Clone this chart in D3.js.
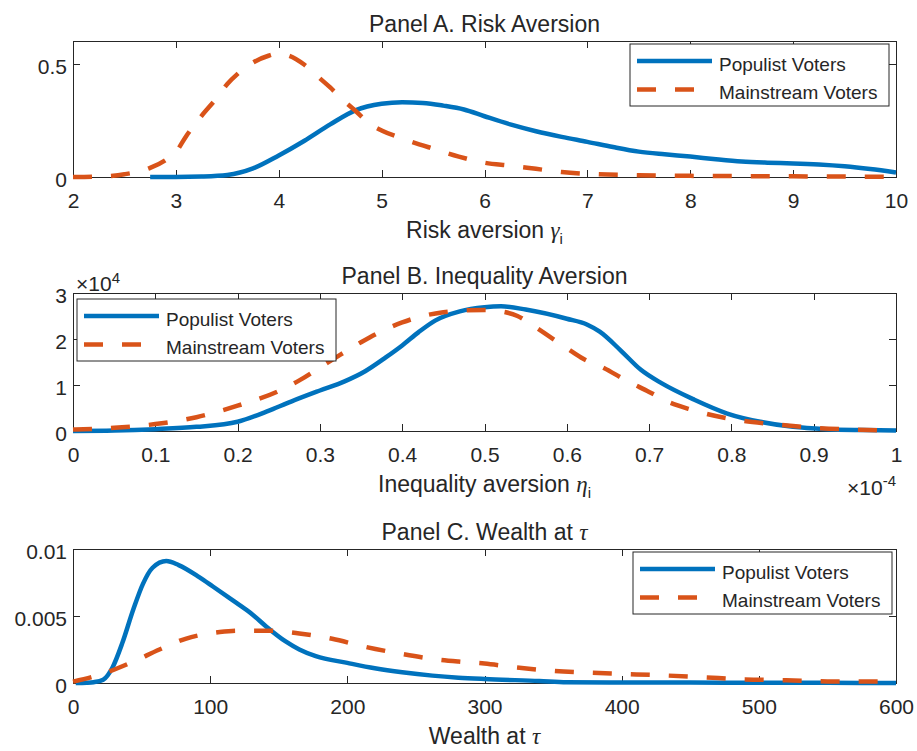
<!DOCTYPE html>
<html>
<head>
<meta charset="utf-8">
<title>Voter distributions</title>
<script src="https://cdn.jsdelivr.net/npm/d3@7"></script>
<style>
  body { margin: 0; background: #fff; }
  text { font-family: "Liberation Sans", Arial, Helvetica, sans-serif; fill: #262626; }
</style>
</head>
<body>
<svg id="chart" width="917" height="751"></svg>
<script>
// ---- data ----
// Panel A: risk aversion gamma_i
var riskPopX = [2.75, 3, 3.25, 3.5, 3.75, 4, 4.25, 4.5, 4.75, 5, 5.2, 5.4, 5.6, 5.8, 6, 6.25, 6.5, 6.75, 7, 7.25, 7.5, 7.75, 8, 8.25, 8.5, 8.75, 9, 9.25, 9.5, 9.75, 10];
var riskPopY = [0, 0, 0.002, 0.009, 0.038, 0.095, 0.16, 0.232, 0.295, 0.323, 0.33, 0.327, 0.315, 0.298, 0.268, 0.232, 0.202, 0.177, 0.155, 0.132, 0.112, 0.1, 0.09, 0.078, 0.068, 0.063, 0.06, 0.055, 0.047, 0.035, 0.02];
var riskMainX = [2, 2.25, 2.5, 2.75, 2.9, 3, 3.1, 3.25, 3.4, 3.5, 3.6, 3.75, 3.9, 4, 4.1, 4.25, 4.4, 4.5, 4.6, 4.75, 4.9, 5, 5.2, 5.5, 5.75, 6, 6.25, 6.5, 6.75, 7, 7.5, 8, 8.5, 9, 9.5, 10];
var riskMainY = [0, 0.002, 0.012, 0.04, 0.075, 0.11, 0.18, 0.27, 0.35, 0.41, 0.455, 0.505, 0.535, 0.545, 0.535, 0.495, 0.435, 0.395, 0.35, 0.29, 0.23, 0.205, 0.17, 0.125, 0.09, 0.063, 0.05, 0.036, 0.022, 0.014, 0.008, 0.005, 0.004, 0.003, 0.002, 0.001];

// Panel B: inequality aversion eta_i (x in units of 1e-4, y in units of 1e4)
var ineqPopX = [0, 0.05, 0.1, 0.15, 0.2, 0.235, 0.265, 0.3, 0.33, 0.355, 0.38, 0.4, 0.42, 0.44, 0.47, 0.5, 0.52, 0.55, 0.6, 0.625, 0.64, 0.665, 0.69, 0.715, 0.755, 0.795, 0.835, 0.875, 0.915, 0.96, 1];
var ineqPopY = [0, 0.01, 0.04, 0.09, 0.2, 0.42, 0.64, 0.88, 1.08, 1.3, 1.6, 1.86, 2.15, 2.4, 2.6, 2.69, 2.71, 2.64, 2.44, 2.31, 2.16, 1.76, 1.33, 1.04, 0.68, 0.38, 0.2, 0.09, 0.04, 0.02, 0.01];
var ineqMainX = [0, 0.05, 0.1, 0.15, 0.2, 0.25, 0.275, 0.3, 0.325, 0.35, 0.375, 0.4, 0.425, 0.45, 0.475, 0.5, 0.52, 0.54, 0.56, 0.58, 0.6, 0.62, 0.645, 0.67, 0.7, 0.725, 0.75, 0.8, 0.85, 0.9, 0.95, 1];
var ineqMainY = [0.03, 0.07, 0.15, 0.3, 0.55, 0.87, 1.1, 1.38, 1.66, 1.93, 2.17, 2.36, 2.5, 2.58, 2.62, 2.63, 2.6, 2.5, 2.28, 2.04, 1.8, 1.57, 1.37, 1.12, 0.85, 0.62, 0.47, 0.26, 0.15, 0.07, 0.03, 0.01];

// Panel C: wealth at tau
var wealthPopX = [2, 10, 15, 22, 29, 36, 44, 51, 58, 68, 77, 92, 102, 116, 131, 141, 155, 165, 177, 200, 220, 240, 262, 281, 300, 340, 360, 400, 450, 500, 550, 600];
var wealthPopY = [0, 0.00002, 0.00006, 0.00025, 0.0012, 0.003, 0.0055, 0.0074, 0.0086, 0.0091, 0.0088, 0.0079, 0.0072, 0.0062, 0.0051, 0.0042, 0.0031, 0.0025, 0.002, 0.0015, 0.0011, 0.0008, 0.00055, 0.0004, 0.0003, 0.00015, 0.00006, 0.00004, 0.00003, 0.00002, 0.00001, 0];
var wealthMainX = [0, 19, 44, 63, 82, 107, 120, 143, 165, 189, 213, 238, 262, 281, 300, 320, 345, 375, 400, 430, 460, 490, 520, 550, 600];
var wealthMainY = [0.0001, 0.0006, 0.0016, 0.0025, 0.0033, 0.0038, 0.0039, 0.0039, 0.0037, 0.0033, 0.0027, 0.0022, 0.0018, 0.0016, 0.00145, 0.0012, 0.00095, 0.00078, 0.00068, 0.00057, 0.00042, 0.00027, 0.0002, 0.00012, 0.00012];

var seriesNames = ["Populist Voters", "Mainstream Voters"];
var riskTicksX = [2, 3, 4, 5, 6, 7, 8, 9, 10];
var riskTicksY = [0, 0.5];
var ineqTicksX = [0, 0.1, 0.2, 0.3, 0.4, 0.5, 0.6, 0.7, 0.8, 0.9, 1];
var ineqTicksY = [0, 1, 2, 3];
var wealthTicksX = [0, 100, 200, 300, 400, 500, 600];
var wealthTicksY = [0, 0.005, 0.01];

// ---- drawing ----
var blue = "#0072BD", orange = "#D95319";
var svg = d3.select("#chart");
var L = 73, R = 896;

function zip(xs, ys) { return xs.map((x, i) => [x, ys[i]]); }

function panel(cfg) {
  var x = d3.scaleLinear().domain(cfg.xDomain).range([L, R]);
  var y = d3.scaleLinear().domain(cfg.yDomain).range([cfg.bottom, cfg.top]);
  var g = svg.append("g");

  // ticks on all four sides, pointing inward (matlab box style)
  var tl = 7;
  var bx = g.append("g").attr("transform", `translate(0,${cfg.bottom})`)
    .call(d3.axisBottom(x).tickValues(cfg.xTicks).tickSizeInner(-tl).tickSizeOuter(0).tickFormat(d3.format("")));
  bx.selectAll(".tick text").attr("y", 31).attr("dy", 0).style("font-size", "21px");
  g.append("g").attr("transform", `translate(0,${cfg.top})`)
    .call(d3.axisTop(x).tickValues(cfg.xTicks).tickSizeInner(-tl).tickSizeOuter(0).tickFormat(""));
  var ly = g.append("g").attr("transform", `translate(${L},0)`)
    .call(d3.axisLeft(y).tickValues(cfg.yTicks).tickSizeInner(-tl).tickSizeOuter(0).tickFormat(d3.format("")));
  ly.selectAll(".tick text").attr("x", -6).attr("dy", "0.45em").style("font-size", "21px");
  g.append("g").attr("transform", `translate(${R},0)`)
    .call(d3.axisRight(y).tickValues(cfg.yTicks).tickSizeInner(-tl).tickSizeOuter(0).tickFormat(""));
  g.selectAll(".domain").remove();
  g.selectAll(".tick line").attr("stroke", "#262626").attr("shape-rendering", "crispEdges");
  g.selectAll(".tick text").attr("fill", "#262626").style("font-family", "Liberation Sans, Arial, sans-serif");

  g.append("rect")
    .attr("x", L + 0.5).attr("y", Math.round(cfg.top) + 0.5)
    .attr("width", R - L).attr("height", Math.round(cfg.bottom) - Math.round(cfg.top))
    .attr("fill", "none").attr("stroke", "#262626").attr("stroke-width", 1);

  var line = d3.line().x(d => x(d[0])).y(d => y(d[1])).curve(d3.curveMonotoneX);
  g.append("path").datum(cfg.pop).attr("d", line)
    .attr("fill", "none").attr("stroke", blue).attr("stroke-width", 4.5).attr("stroke-linejoin", "round");
  g.append("path").datum(cfg.main).attr("d", line)
    .attr("fill", "none").attr("stroke", orange).attr("stroke-width", 4.5).attr("stroke-dasharray", "19,19");

  // title
  g.append("text").attr("x", (L + R) / 2).attr("y", cfg.top - 9)
    .attr("text-anchor", "middle").style("font-size", "23px").call(cfg.title);
  // x label
  g.append("text").attr("x", (L + R) / 2).attr("y", cfg.bottom + 61)
    .attr("text-anchor", "middle").style("font-size", "23px").call(cfg.xlabel);

  // legend
  var lg = g.append("g").attr("transform", `translate(${cfg.legend[0]},${cfg.legend[1]})`);
  lg.append("rect").attr("width", 259).attr("height", 62)
    .attr("fill", "#fff").attr("stroke", "#262626").attr("stroke-width", 1);
  seriesNames.forEach(function (name, i) {
    var yy = 17 + i * 28.5;
    lg.append("line").attr("x1", 7).attr("x2", 82).attr("y1", yy).attr("y2", yy)
      .attr("stroke", i ? orange : blue).attr("stroke-width", 4.5)
      .attr("stroke-dasharray", i ? "19,19" : null);
    lg.append("text").attr("x", 89).attr("y", yy + 9.5).style("font-size", "19px").text(name);
  });
  return g;
}

function greekLabel(prefix, sym, sub) {
  return function (t) {
    t.append("tspan").text(prefix);
    t.append("tspan").style("font-family", "Liberation Serif, serif").style("font-style", "italic").text(sym);
    if (sub) t.append("tspan").attr("dy", 6).style("font-size", "15px").text(sub);
  };
}

panel({
  xDomain: [2, 10], yDomain: [0, 0.6], top: 41, bottom: 177,
  xTicks: riskTicksX, yTicks: riskTicksY,
  pop: zip(riskPopX, riskPopY), main: zip(riskMainX, riskMainY),
  title: t => t.text("Panel A. Risk Aversion"),
  xlabel: greekLabel("Risk aversion ", "\u03B3", "i"),
  legend: [630, 44]
});

var pB = panel({
  xDomain: [0, 1], yDomain: [0, 3], top: 293, bottom: 431,
  xTicks: ineqTicksX, yTicks: ineqTicksY,
  pop: zip(ineqPopX, ineqPopY), main: zip(ineqMainX, ineqMainY),
  title: t => t.text("Panel B. Inequality Aversion"),
  xlabel: greekLabel("Inequality aversion ", "\u03B7", "i"),
  legend: [77, 299]
});
// exponent labels
var e1 = pB.append("text").attr("x", 76).attr("y", 291).style("font-size", "21px");
e1.append("tspan").text("\u00D710");
e1.append("tspan").attr("dy", -8).style("font-size", "15px").text("4");
var e2 = pB.append("text").attr("x", 896).attr("y", 495).attr("text-anchor", "end").style("font-size", "21px");
e2.append("tspan").text("\u00D710");
e2.append("tspan").attr("dy", -9).style("font-size", "15px").text("-4");

panel({
  xDomain: [0, 600], yDomain: [0, 0.01], top: 549, bottom: 683,
  xTicks: wealthTicksX, yTicks: wealthTicksY,
  pop: zip(wealthPopX, wealthPopY), main: zip(wealthMainX, wealthMainY),
  title: greekLabel("Panel C. Wealth at ", "\u03C4"),
  xlabel: greekLabel("Wealth at ", "\u03C4"),
  legend: [633, 552]
});
</script>
</body>
</html>
